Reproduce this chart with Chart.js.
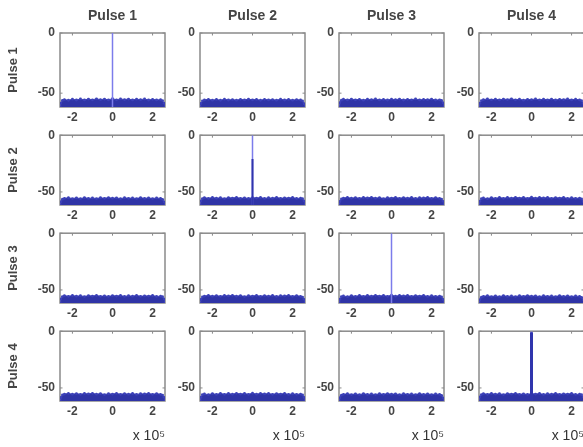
<!DOCTYPE html>
<html>
<head>
<meta charset="utf-8">
<script src="https://cdn.jsdelivr.net/npm/chart.js@4.4.1/dist/chart.umd.min.js"></script>
<style>
  html, body { margin: 0; padding: 0; background: #fff; overflow: hidden; }
  #grid { position: relative; width: 583px; height: 447px; }
  #grid canvas { position: absolute; }
</style>
</head>
<body>
<div id="grid"></div>
<script>
// Pulse cross-correlation matrix: lag (x 10^5 samples) vs. level (dB)
const pulses = ['Pulse 1', 'Pulse 2', 'Pulse 3', 'Pulse 4'];
const lagTicks = [-2, 0, 2];
const levelTicks = [-50, 0];
const lagRange = [-2.62, 2.62];
const levelRange = [-61.5, 0];

// lag positions of the sidelobe-floor envelope
const lags = [-2.62, -2.58, -2.5, -2.4, -2.2, -2.0, -1.8, -1.6, -1.4, -1.2, -1.0, -0.8, -0.6, -0.4, -0.2, 0,
              0.2, 0.4, 0.6, 0.8, 1.0, 1.2, 1.4, 1.6, 1.8, 2.0, 2.2, 2.4, 2.5, 2.58, 2.62];

// upper edge of the sidelobe floor (dB)
const floorA = [-61.5, -58.2, -56.0, -55.3, -55.9, -55.0, -55.7, -54.8, -55.6, -54.9, -55.5, -54.7, -55.4, -54.9, -55.6, -54.6,
                -55.5, -54.8, -55.3, -54.9, -55.6, -55.0, -55.4, -54.8, -55.7, -55.1, -55.6, -55.4, -56.2, -58.4, -61.5];
const floorB = [-61.5, -58.6, -56.4, -55.6, -55.1, -55.8, -55.2, -55.9, -55.0, -55.7, -55.3, -55.8, -55.1, -55.6, -55.0, -55.5,
                -55.2, -55.9, -55.1, -55.6, -55.3, -55.8, -55.0, -55.7, -55.2, -55.8, -55.3, -55.7, -56.5, -58.8, -61.5];
const floorC = [-61.5, -57.9, -55.8, -55.0, -55.6, -54.9, -55.5, -55.1, -55.8, -55.0, -55.4, -54.8, -55.6, -55.2, -55.7, -55.0,
                -55.4, -54.9, -55.7, -55.1, -55.5, -54.8, -55.6, -55.2, -55.4, -54.9, -55.7, -55.5, -56.0, -58.0, -61.5];
const floorD = [-61.5, -58.4, -56.2, -55.4, -54.8, -55.5, -55.0, -55.6, -54.9, -55.3, -54.7, -55.5, -55.0, -55.8, -55.1, -55.4,
                -54.8, -55.6, -55.0, -55.5, -54.9, -55.7, -55.1, -55.3, -54.8, -55.6, -55.0, -55.6, -56.3, -58.3, -61.5];
const floors = [floorA, floorB, floorC, floorD];

// autocorrelation peaks on the diagonal (dB): full peak and dense core
const peakLevel = [0, 0, 0, 0];
const coreLevel = [null, -21, null, -1];

const FONT = '"Liberation Sans", Arial, sans-serif';
const TEXT = '#454545';
const FLOOR_FILL = '#2f34a6';
const FLOOR_EDGE = '#3c41b8';
const PEAK_LIGHT = '#7c7ceb';
const PEAK_DARK = '#3035ad';

// axes frame with inward ticks on all four sides
const boxFrame = {
  id: 'boxFrame',
  beforeDatasetsDraw(chart) {
    const { ctx, chartArea: a, scales } = chart;
    ctx.save();
    ctx.strokeStyle = '#8a8a8a';
    ctx.lineWidth = 1.5;
    ctx.strokeRect(a.left, a.top, a.right - a.left, a.bottom - a.top);
    ctx.lineWidth = 1;
    ctx.beginPath();
    lagTicks.forEach(v => {
      const px = scales.x.getPixelForValue(v);
      ctx.moveTo(px, a.bottom); ctx.lineTo(px, a.bottom - 2.5);
      ctx.moveTo(px, a.top); ctx.lineTo(px, a.top + 2.5);
    });
    levelTicks.forEach(v => {
      const py = scales.y.getPixelForValue(v);
      ctx.moveTo(a.left, py); ctx.lineTo(a.left + 2.5, py);
      ctx.moveTo(a.right, py); ctx.lineTo(a.right - 2.5, py);
    });
    ctx.stroke();
    ctx.restore();
  }
};

const grid = document.getElementById('grid');
const colLeft = [60, 200, 339, 479];
const rowTop = [33, 131, 229, 327];
const BOX_W = 105, BOX_H = 74;

function buildCell(r, c) {
  const yAxisW = c === 0 ? 60 : 30;
  const padTop = r === 0 ? 0 : 8;
  const topAxisH = r === 0 ? 33 : 0;
  const xAxisH = r === 3 ? 45 : 20;
  const padRight = 4;
  const left = colLeft[c] - yAxisW;
  const top = rowTop[r] - padTop - topAxisH;
  const width = yAxisW + BOX_W + padRight;
  const height = padTop + topAxisH + BOX_H + xAxisH;

  const canvas = document.createElement('canvas');
  canvas.width = width; canvas.height = height;
  canvas.style.left = left + 'px'; canvas.style.top = top + 'px';
  canvas.style.width = width + 'px'; canvas.style.height = height + 'px';
  grid.appendChild(canvas);

  const floor = floors[(r + c) % 4];
  const datasets = [{
    label: 'floor',
    data: lags.map((x, i) => ({ x, y: floor[i] })),
    borderColor: FLOOR_EDGE,
    backgroundColor: FLOOR_FILL,
    borderWidth: 1,
    pointRadius: 1.4,
    pointBackgroundColor: FLOOR_EDGE,
    pointBorderWidth: 0,
    fill: 'start',
    tension: 0,
    order: 2
  }];
  if (r === c) {
    datasets.push({
      label: 'peak',
      data: [{ x: 0, y: levelRange[0] }, { x: 0, y: peakLevel[r] }],
      borderColor: PEAK_LIGHT,
      borderWidth: 1.5,
      pointRadius: 0,
      fill: false,
      order: 1
    });
    if (coreLevel[r] !== null) {
      datasets.push({
        label: 'core',
        data: [{ x: 0, y: levelRange[0] }, { x: 0, y: coreLevel[r] }],
        borderColor: PEAK_DARK,
        borderWidth: r === 3 ? 3 : 2,
        pointRadius: 0,
        fill: false,
        order: 0
      });
    }
  }

  const tickFont = { family: FONT, size: 12, weight: 'bold' };
  const labelFont = { family: FONT, size: 13, weight: 'bold' };

  const scales = {
    x: {
      type: 'linear', position: 'bottom',
      min: lagRange[0], max: lagRange[1],
      afterBuildTicks: s => { s.ticks = lagTicks.map(v => ({ value: v })); },
      afterFit: s => { s.height = xAxisH; },
      ticks: { autoSkip: false, maxRotation: 0, padding: 3, color: TEXT,
               font: tickFont, callback: v => String(v) },
      grid: { display: false, drawTicks: false, tickLength: 0 },
      border: { display: false },
      title: {
        display: r === 3, text: 'x 10\u2075', align: 'end', color: '#333333',
        font: { family: FONT, size: 14 }, padding: { top: 0, bottom: 1 }
      }
    },
    y: {
      type: 'linear', position: 'left',
      min: levelRange[0], max: levelRange[1],
      afterBuildTicks: s => { s.ticks = levelTicks.map(v => ({ value: v })); },
      afterFit: s => { s.width = yAxisW; },
      ticks: { autoSkip: false, padding: 5, color: TEXT,
               font: tickFont, callback: v => String(v) },
      grid: { display: false, drawTicks: false, tickLength: 0 },
      border: { display: false },
      title: {
        display: c === 0, text: pulses[r], color: TEXT,
        font: labelFont, padding: { top: 6, bottom: 0 }
      }
    }
  };
  if (r === 0) {
    scales.xTop = {
      type: 'linear', position: 'top', min: 0, max: 1,
      afterFit: s => { s.height = topAxisH; },
      ticks: { display: false },
      grid: { display: false, drawTicks: false, tickLength: 0 },
      border: { display: false },
      title: {
        display: true, text: pulses[c], color: TEXT,
        font: { family: FONT, size: 14, weight: 'bold' }, padding: { top: 8, bottom: 0 }
      }
    };
  }

  new Chart(canvas, {
    type: 'line',
    data: { datasets },
    options: {
      responsive: false,
      animation: false,
      devicePixelRatio: 1,
      layout: { padding: { top: padTop, right: padRight, left: 0, bottom: 0 } },
      plugins: { legend: { display: false }, tooltip: { enabled: false } },
      scales
    },
    plugins: [boxFrame]
  });
}

for (let r = 0; r < 4; r++) {
  for (let c = 0; c < 4; c++) buildCell(r, c);
}
</script>
</body>
</html>
